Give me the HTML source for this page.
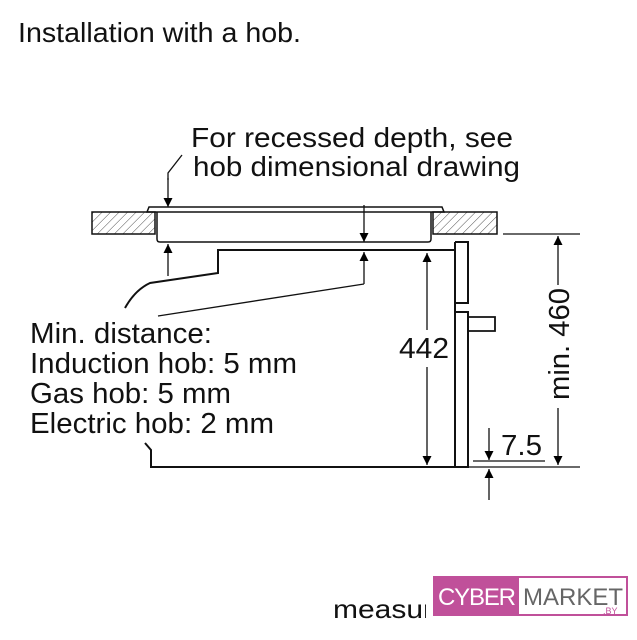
<!DOCTYPE html>
<html><head><meta charset="utf-8"><style>
html,body{margin:0;padding:0;background:#fff;width:637px;height:640px;overflow:hidden}
svg{display:block}
text{font-family:"Liberation Sans",sans-serif;fill:#111}
</style></head><body>
<svg width="637" height="640" viewBox="0 0 637 640" xmlns="http://www.w3.org/2000/svg">
<defs>
<pattern id="h" width="6" height="6" patternUnits="userSpaceOnUse" patternTransform="rotate(45)">
<line x1="0" y1="0" x2="0" y2="6" stroke="#222" stroke-width="0.8"/></pattern>
<marker id="a" viewBox="0 0 10 10" refX="10" refY="5" markerWidth="9" markerHeight="11" markerUnits="userSpaceOnUse" orient="auto"><path d="M0,0 L10,5 L0,10z" fill="#000"/></marker>
</defs>
<text x="18" y="42" font-size="28" textLength="283" lengthAdjust="spacingAndGlyphs">Installation with a hob.</text>
<text x="191" y="147" font-size="28" textLength="322" lengthAdjust="spacingAndGlyphs">For recessed depth, see</text>
<text x="193" y="176" font-size="28" textLength="327" lengthAdjust="spacingAndGlyphs">hob dimensional drawing</text>
<text x="30" y="343" font-size="29" textLength="182" lengthAdjust="spacingAndGlyphs">Min. distance:</text>
<text x="30" y="373" font-size="29" textLength="267" lengthAdjust="spacingAndGlyphs">Induction hob: 5 mm</text>
<text x="30" y="403" font-size="29" textLength="201" lengthAdjust="spacingAndGlyphs">Gas hob: 5 mm</text>
<text x="30" y="433" font-size="29" textLength="244" lengthAdjust="spacingAndGlyphs">Electric hob: 2 mm</text>
<text x="399" y="358" font-size="29" textLength="50" lengthAdjust="spacingAndGlyphs">442</text>
<text x="501" y="455" font-size="29" textLength="41" lengthAdjust="spacingAndGlyphs">7.5</text>
<text transform="translate(569,400) rotate(-90)" font-size="29" textLength="112" lengthAdjust="spacingAndGlyphs">min. 460</text>
<g fill="none" stroke="#111" stroke-width="2">
<rect x="92" y="212" width="63" height="22" fill="url(#h)" stroke-width="1.5"/>
<rect x="433" y="212" width="64" height="22" fill="url(#h)" stroke-width="1.5"/>
<path d="M147,212 L149,207 L442,207 L444,212 Z" stroke-width="1.5"/>
<path d="M157,212 V239 Q157,242 160,242 H428 Q431,242 431,239 V212" stroke-width="1.5"/>
<path d="M455,250 H218 V273 L150,283 Q135,290 125,308"/>
<path d="M145,443 L151,450 V467 H455"/>
<path d="M455,242 H468 V303 H455 M455,312 H468 V467 H455 V242"/>
<path d="M468,317 H495 V331 H468" stroke-width="1.8"/>
<path d="M364,284 L158,316" stroke-width="1.3"/>
<path d="M182,155 L168,173 V180" stroke-width="1.3"/>
<g stroke-width="1.3">
<line x1="168" y1="178" x2="168" y2="207" marker-end="url(#a)"/>
<line x1="168" y1="276" x2="168" y2="244" marker-end="url(#a)"/>
<line x1="364" y1="205" x2="364" y2="242" marker-end="url(#a)"/>
<line x1="364" y1="284" x2="364" y2="252" marker-end="url(#a)"/>
<line x1="427" y1="330" x2="427" y2="253" marker-end="url(#a)"/>
<line x1="427" y1="367" x2="427" y2="465" marker-end="url(#a)"/>
<line x1="503" y1="234" x2="580" y2="234"/>
<line x1="463" y1="467" x2="580" y2="467"/>
<line x1="473" y1="461" x2="545" y2="461"/>
<line x1="558" y1="285" x2="558" y2="236" marker-end="url(#a)"/>
<line x1="558" y1="408" x2="558" y2="465" marker-end="url(#a)"/>
<line x1="489" y1="428" x2="489" y2="460" marker-end="url(#a)"/>
<line x1="489" y1="500" x2="489" y2="469" marker-end="url(#a)"/>
</g>
</g>
<text x="333" y="618" font-size="26" textLength="100" lengthAdjust="spacingAndGlyphs">measur</text>
<rect x="426" y="596" width="8" height="30" fill="#fff"/>
<rect x="434" y="577" width="193" height="38" fill="#fff" stroke="#c0509a" stroke-width="2"/>
<rect x="434" y="577" width="85" height="38" fill="#c0509a"/>
<text x="438" y="605" font-size="24" style="fill:#fff" textLength="78">CYBER</text>
<text x="523" y="605" font-size="24" style="fill:#666" textLength="100">MARKET</text>
<text x="603" y="614" font-size="9" style="fill:#c0509a">.BY</text>
</svg>
</body></html>
